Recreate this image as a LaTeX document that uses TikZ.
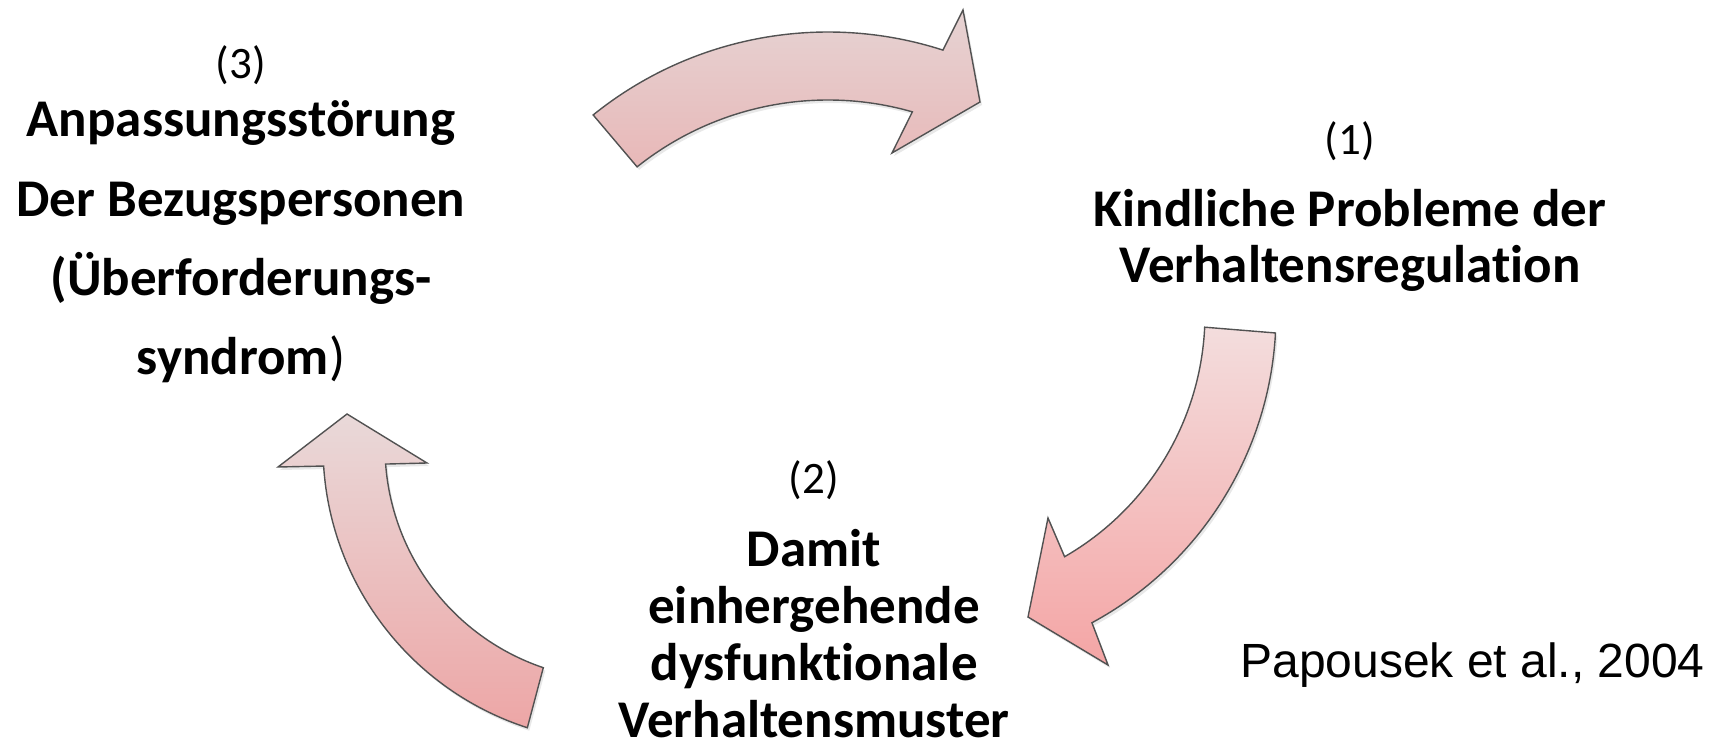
\documentclass[tikz,border=0pt]{standalone}
\usepackage{fontspec}
\setmainfont{Carlito}[Ligatures={NoCommon}]
\newfontfamily\arialfont{Liberation Sans}
\usetikzlibrary{shadows}
\definecolor{atop}{HTML}{E6D3D3}
\definecolor{abot}{HTML}{E8B8B8}
\definecolor{btop}{HTML}{F3DDDD}
\definecolor{bbot}{HTML}{F4A5A5}
\definecolor{ctop}{HTML}{E9D9D9}
\definecolor{cbot}{HTML}{EDA6A6}
\begin{document}
\begin{tikzpicture}[x=0.5pt,y=-0.5pt,
  arrowshape/.style={draw=black!68, line width=0.7pt, line join=miter,
    drop shadow={shadow xshift=1pt, shadow yshift=-1.5pt, opacity=0.18}},
  lbl/.style={font=\bfseries\fontsize{26.5}{28}\selectfont, align=center, inner sep=0pt, anchor=base},
  num/.style={font=\fontsize{22.5}{26}\selectfont, inner sep=0pt, anchor=base}]
\useasboundingbox (0,0) rectangle (1713,748);

% centres of the curved block arrows
\coordinate (ca) at (828,406);
\coordinate (cb) at (925,314);
\coordinate (cc) at (618,447);

% top arrow (3) -> (1)
\path[arrowshape, top color=atop, bottom color=abot]
  ([shift={(-128.9:374)}]ca) arc[start angle=-128.9, end angle=-72.1, radius=374]
  -- (963,10) -- (980,102) -- (892,153) -- ([shift={(-74:306)}]ca)
  arc[start angle=-74, end angle=-128.6, radius=306] -- cycle;

% right arrow (1) -> (2)
\path[arrowshape, top color=btop, bottom color=bbot]
  ([shift={(2.7:280)}]cb) -- ([shift={(3.1:351)}]cb)
  arc[start angle=3.1, end angle=61.6, radius=351]
  -- (1108,665) -- (1028,617) -- (1048,518) -- ([shift={(60.1:280)}]cb)
  arc[start angle=60.1, end angle=2.7, radius=280] -- cycle;

% left arrow (2) -> (3)
\path[arrowshape, top color=ctop, bottom color=cbot]
  ([shift={(107.9:295)}]cc) arc[start angle=107.9, end angle=176.3, radius=295]
  -- (278,467) -- (347,414) -- (427,463) -- ([shift={(175.8:233)}]cc)
  arc[start angle=175.8, end angle=108.7, radius=233] -- cycle;

% texts (base anchor = baseline of the last line)
\node[num] (n3) at (241,79) {(3)};
\node[lbl, font=\bfseries\fontsize{26.5}{39.7}\selectfont] (t3) at (241,375)
  {Anpassungsstörung\\Der Bezugspersonen\\(Überforderungs-\\syndrom{\mdseries)}};

\node[num] (n1) at (1350,155) {(1)};
\node[lbl] (t1) at (1350,283) {Kindliche Probleme der\\Verhaltensregulation};

\node[num] (n2) at (814,494) {(2)};
\node[lbl, font=\bfseries\fontsize{26.5}{28.5}\selectfont] (t2) at (814,737)
  {Damit\\einhergehende\\dysfunktionale\\Verhaltensmuster};

\node[font=\arialfont\fontsize{24}{27}\selectfont, anchor=base west, inner sep=0pt] (ref)
  at (1240,677) {Papousek et al., 2004};
\end{tikzpicture}
\end{document}
